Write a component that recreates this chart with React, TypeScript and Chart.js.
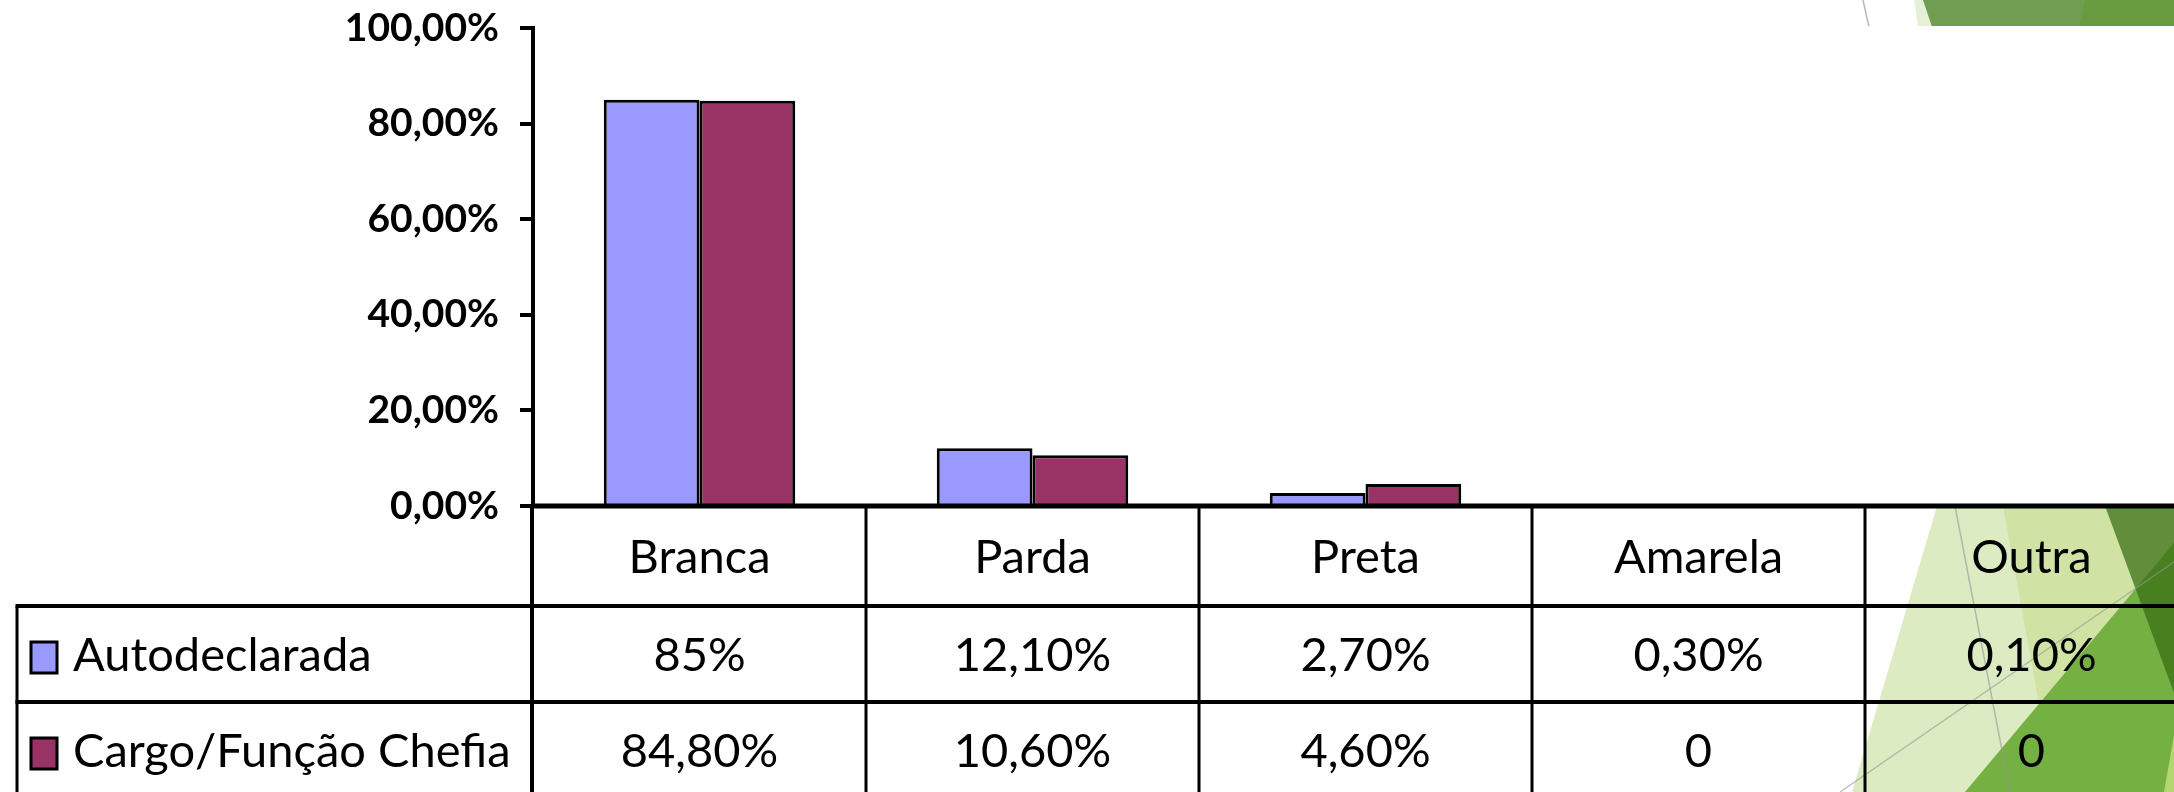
import React, { useEffect, useRef } from "react";
import { Chart, registerables } from "chart.js";

Chart.register(...registerables);

// ---- data ----
const categories = ["Branca", "Parda", "Preta", "Amarela", "Outra"];
const seriesNames = ["Autodeclarada", "Cargo/Função Chefia"];
const autodeclarada = [85, 12.1, 2.7, 0.3, 0.1];
const chefia = [84.8, 10.6, 4.6, 0, 0];
const autodeclaradaLabels = ["85%", "12,10%", "2,70%", "0,30%", "0,10%"];
const chefiaLabels = ["84,80%", "10,60%", "4,60%", "0", "0"];
const yMin = 0;
const yMax = 100;
const yStep = 20;
const seriesColors = ["#9999FF", "#993366"];

const CANVAS_W = 2210;
const CANVAS_H = 792;
const TEXT_FONT = "47px Lato, 'Noto Sans', sans-serif";

const fmtTick = (v: number) => v.toFixed(2).replace(".", ",") + "%";

const poly = (ctx: CanvasRenderingContext2D, pts: number[][], fill: string) => {
  ctx.beginPath();
  ctx.moveTo(pts[0][0], pts[0][1]);
  for (let i = 1; i < pts.length; i++) ctx.lineTo(pts[i][0], pts[i][1]);
  ctx.closePath();
  ctx.fillStyle = fill;
  ctx.fill();
};

const line = (ctx: CanvasRenderingContext2D, x1: number, y1: number, x2: number, y2: number, color: string, w: number) => {
  ctx.beginPath();
  ctx.moveTo(x1, y1);
  ctx.lineTo(x2, y2);
  ctx.strokeStyle = color;
  ctx.lineWidth = w;
  ctx.stroke();
};

// Background theme decoration (slide shapes behind the chart)
const decorationPlugin = {
  id: "decoration",
  beforeDraw(chart: any) {
    const ctx = chart.ctx as CanvasRenderingContext2D;
    const area = chart.chartArea;
    ctx.save();
    // top band
    ctx.save();
    ctx.beginPath();
    ctx.rect(0, 0, CANVAS_W, 26);
    ctx.clip();
    poly(ctx, [[1914, 0], [1924, 0], [1933, 27], [1918, 27]], "#e6f0d6");
    poly(ctx, [[1923, 0], [2210, 0], [2210, 27], [1932, 27]], "#719d53");
    poly(ctx, [[2085, 0], [2210, 0], [2210, 27], [2079, 27]], "#689a3f");
    line(ctx, 1863, 0, 1869, 27, "#b8b8b8", 1.5);
    ctx.restore();
    // bottom-right shapes (visible only under the data table)
    ctx.save();
    ctx.beginPath();
    ctx.rect(0, area.bottom, CANVAS_W, CANVAS_H - area.bottom);
    ctx.clip();
    poly(ctx, [[1937, 506], [2210, 506], [2210, 792], [1852, 792]], "#dcebc2");
    poly(ctx, [[2003, 506], [2210, 506], [2210, 792], [2055, 792]], "#d0e3a4");
    poly(ctx, [[1965, 792], [2174, 543], [2210, 500], [2210, 792]], "#75b043");
    poly(ctx, [[2164, 792], [2174, 735], [2174, 792]], "#b5d56f");
    poly(ctx, [[2105, 506], [2210, 506], [2210, 760], [2174, 693]], "rgba(55,108,18,0.72)");
    line(ctx, 1840, 792, 2174, 562, "rgba(150,150,150,0.6)", 1.5);
    line(ctx, 1955, 506, 2010, 792, "rgba(150,150,150,0.6)", 1.5);
    ctx.restore();
    ctx.restore();
  },
};

// Data table below the plot (Excel style)
const tablePlugin = {
  id: "dataTable",
  afterDraw(chart: any) {
    const ctx = chart.ctx as CanvasRenderingContext2D;
    const area = chart.chartArea;
    const xs = chart.scales.x;
    const n = categories.length;
    const colW = (area.right - area.left) / n;
    const top = area.bottom;
    const r1 = top + 100;
    const r2 = r1 + 96;
    const bottom = CANVAS_H;
    const left = 17;

    ctx.save();
    // horizontal lines
    line(ctx, area.left, top, CANVAS_W, top, "#000", 5);
    line(ctx, left - 1.5, r1, CANVAS_W, r1, "#000", 4);
    line(ctx, left - 1.5, r2, CANVAS_W, r2, "#000", 4);
    // vertical lines
    line(ctx, left, r1, left, bottom, "#000", 3);
    line(ctx, area.left - 1, top, area.left - 1, bottom, "#000", 4);
    for (let i = 1; i <= n; i++) {
      const x = Math.round(area.left + i * colW);
      line(ctx, x, top, x, bottom, "#000", 3);
    }

    ctx.fillStyle = "#000";
    ctx.font = TEXT_FONT;
    ctx.textAlign = "center";
    ctx.textBaseline = "alphabetic";
    const capHalf = 17;
    categories.forEach((c, i) => {
      const cx = xs.getPixelForValue(i);
      ctx.fillText(c, cx, top + 50 + capHalf);
      ctx.fillText(autodeclaradaLabels[i], cx, r1 + 48 + capHalf);
      ctx.fillText(chefiaLabels[i], cx, r2 + 48 + capHalf);
    });

    // legend keys + series names
    const rows = [r1 + 48, r2 + 48];
    ctx.textAlign = "left";
    seriesNames.forEach((name, i) => {
      const cy = rows[i];
      ctx.fillStyle = seriesColors[i];
      ctx.fillRect(31, cy - 12, 26, 31);
      ctx.strokeStyle = "#000";
      ctx.lineWidth = 3;
      ctx.strokeRect(31, cy - 12, 26, 31);
      ctx.fillStyle = "#000";
      ctx.fillText(name, 73, cy + capHalf);
    });
    ctx.restore();
  },
};

export default function App() {
  const canvasRef = useRef<HTMLCanvasElement | null>(null);

  useEffect(() => {
    const canvas = canvasRef.current;
    if (!canvas) return;
    const chart = new Chart(canvas, {
      type: "bar",
      data: {
        labels: categories,
        datasets: [
          {
            label: seriesNames[0],
            data: autodeclarada,
            backgroundColor: seriesColors[0],
            borderColor: "#000",
            borderWidth: 3,
            categoryPercentage: 0.575,
            barPercentage: 1,
          },
          {
            label: seriesNames[1],
            data: chefia,
            backgroundColor: seriesColors[1],
            borderColor: "#000",
            borderWidth: 3,
            categoryPercentage: 0.575,
            barPercentage: 1,
          },
        ],
      },
      options: {
        animation: false,
        responsive: false,
        maintainAspectRatio: false,
        devicePixelRatio: 1,
        layout: { padding: { left: 0, right: CANVAS_W - 2198, top: 28, bottom: CANVAS_H - 506 } },
        plugins: {
          legend: { display: false },
          tooltip: { enabled: false },
          title: { display: false },
        },
        scales: {
          x: {
            display: false,
            grid: { display: false },
          },
          y: {
            min: yMin,
            max: yMax,
            afterFit: (scale: any) => {
              scale.width = 533;
              scale.paddingTop = 0;
              scale.paddingBottom = 0;
            },
            ticks: {
              stepSize: yStep,
              color: "#000",
              padding: 21,
              font: { family: "Lato", weight: "bold", size: 39 },
              callback: (v: any) => fmtTick(Number(v)),
            },
            grid: {
              drawOnChartArea: false,
              drawTicks: true,
              tickLength: 13,
              color: "#000",
              lineWidth: 4,
            },
            border: { display: true, color: "#000", width: 4 },
          },
        },
      },
      plugins: [decorationPlugin, tablePlugin],
    });
    return () => chart.destroy();
  }, []);

  return (
    <div
      style={{
        position: "fixed",
        left: 0,
        top: 0,
        width: 2174,
        height: 792,
        overflow: "hidden",
        background: "#fff",
      }}
    >
      <canvas
        ref={canvasRef}
        width={CANVAS_W}
        height={CANVAS_H}
        style={{ width: CANVAS_W, height: CANVAS_H, display: "block" }}
      />
    </div>
  );
}
